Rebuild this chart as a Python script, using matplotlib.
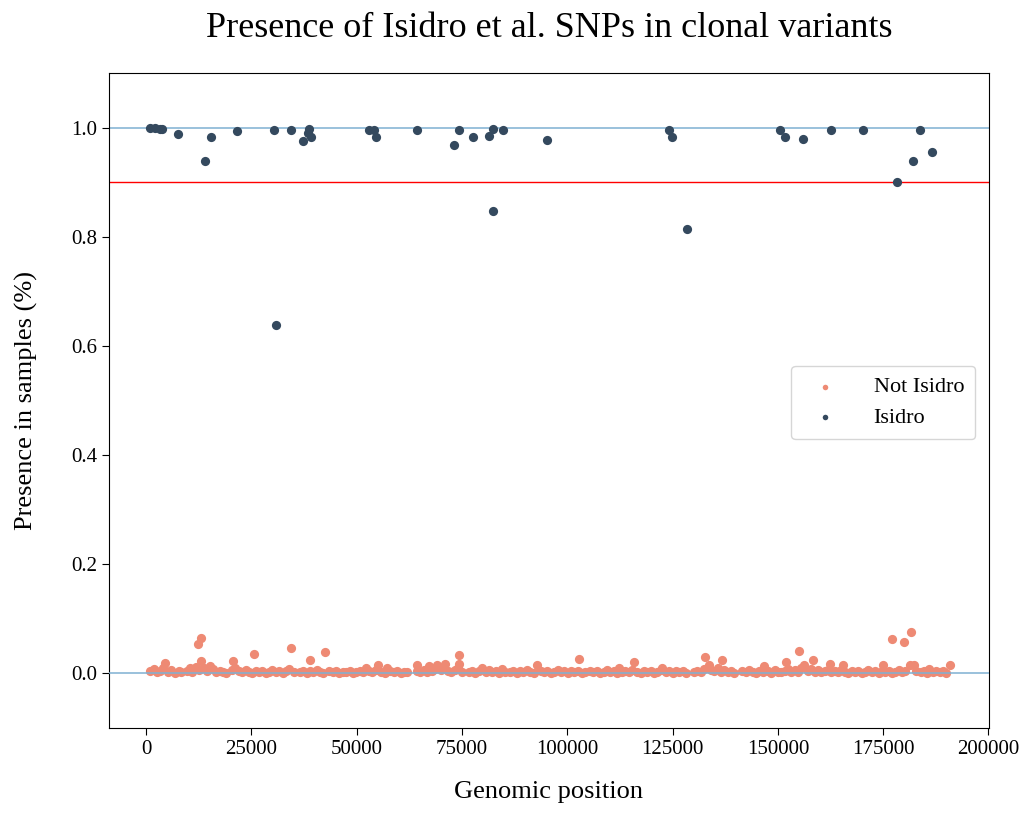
import numpy as np
import matplotlib
matplotlib.use('Agg')
import matplotlib.pyplot as plt

plt.rcParams['font.family'] = ['Liberation Serif', 'DejaVu Serif']

# Isidro SNPs (position, presence)
isidro_pos = [950, 2100, 3300, 3700, 7600, 14000, 15400, 21600, 30300, 30900,
              34500, 37200, 38400, 38600, 39200, 52900, 54100, 54600, 64300, 73200,
              74300, 77500, 81300, 82300, 82400, 84700, 95100, 124200, 124800, 128400,
              150500, 151600, 156000, 162500, 170300, 178300, 182200, 183700, 186700]
isidro_val = [0.999, 0.999, 0.998, 0.997, 0.989, 0.939, 0.983, 0.993, 0.995, 0.639,
              0.996, 0.976, 0.990, 0.997, 0.983, 0.995, 0.995, 0.982, 0.996, 0.969,
              0.996, 0.983, 0.985, 0.847, 0.997, 0.995, 0.978, 0.995, 0.982, 0.815,
              0.995, 0.982, 0.980, 0.996, 0.996, 0.900, 0.939, 0.996, 0.956]

# other SNPs, the dense band close to zero
band = [
    (1000, .004), (1800, .008), (2600, .002), (3300, .005), (4100, .010), (5200, .003),
    (6000, .006), (6900, .001), (7700, .004), (8300, .002),
    (9600, .005), (10300, .009), (11000, .003), (11800, .012), (12600, .006), (13700, .010),
    (14400, .004), (15200, .014), (15900, .007), (16700, .002), (17500, .005), (18300, .003), (19000, .001),
    (20300, .006), (21200, .009), (22000, .004), (22800, .002), (23600, .006), (24400, .003),
    (25200, .001), (26000, .005), (26800, .002), (27600, .004), (28400, .001), (29200, .003),
    (30000, .006), (30800, .002), (31600, .004), (32400, .001), (33200, .005), (34000, .008), (35000, .003),
    (36500, .002), (37300, .005), (38100, .001), (38900, .004), (39700, .002), (40500, .006),
    (41300, .003), (42100, .001),
    (43500, .004), (44300, .002), (45100, .005), (45900, .001), (46700, .003), (47500, .002),
    (48300, .004), (49100, .001), (49900, .003), (50700, .005), (51500, .002), (52100, .010),
    (52900, .004), (53700, .002), (54500, .006), (55800, .003), (56600, .001), (57200, .010),
    (58000, .004), (58800, .002), (59600, .005), (60400, .001), (61200, .003), (62000, .002),
    (64200, .005), (65100, .002), (65900, .006), (66700, .003), (67100, .013), (67900, .004),
    (68700, .008), (69100, .015), (69900, .006), (70900, .017), (71700, .004), (72500, .002),
    (73300, .006), (74100, .010), (74300, .017), (75000, .003),
    (76600, .002), (77400, .005), (78200, .001), (79000, .004), (79800, .010), (80600, .003),
    (81400, .006), (82200, .002), (83000, .004), (83800, .001), (84600, .008), (85100, .003),
    (86400, .002), (87200, .005), (88000, .001), (88800, .004), (89600, .002), (90400, .006),
    (91200, .003), (92000, .001), (92900, .015), (93700, .004), (94500, .002), (95300, .005),
    (96100, .001), (96900, .003), (97700, .006), (98500, .002), (99300, .004), (100100, .001),
    (100900, .005), (101700, .002), (102500, .004), (103500, .001), (104100, .003),
    (105400, .004), (106200, .002), (107000, .005), (107800, .001), (108600, .003), (109400, .006),
    (110200, .002), (111000, .004), (111800, .001), (112200, .010), (113000, .003), (113800, .005),
    (114600, .002), (115400, .006), (116600, .003), (117400, .001), (118200, .004), (119000, .002),
    (119800, .005), (120600, .001), (121400, .003), (122200, .006), (122600, .010), (123400, .002),
    (124200, .004), (125000, .001), (125800, .005), (126600, .002), (127400, .004), (128200, .001),
    (130100, .003), (130900, .005), (131700, .002), (132500, .008), (133300, .010), (134100, .006),
    (134900, .004), (135700, .009), (136500, .003), (137300, .006), (138100, .002), (138900, .005),
    (139700, .001),
    (141600, .004), (142400, .002), (143200, .006), (144000, .003), (144800, .001), (145600, .005),
    (146400, .002), (146800, .013), (147600, .004), (148400, .001), (149200, .006), (150000, .003),
    (150800, .002), (151600, .005), (152400, .008), (153200, .003), (154000, .006), (154800, .002),
    (155600, .010), (156300, .015), (157100, .004), (157900, .007), (158700, .003), (159500, .006),
    (160300, .002),
    (161100, .004), (161900, .006), (162300, .017), (162700, .003), (163500, .005), (164300, .002),
    (165100, .006), (165400, .015), (165900, .003), (166700, .001), (167500, .004), (168300, .002),
    (169100, .005), (169900, .001), (170700, .003), (171500, .006), (172300, .002), (173100, .004),
    (173900, .001), (174700, .005), (175500, .002), (176300, .004), (177100, .001), (177900, .003),
    (178700, .006), (179500, .002), (180300, .004), (181300, .016), (182400, .016), (182700, .005),
    (183900, .002), (184700, .004), (185500, .001), (186000, .008), (186800, .003), (187600, .005),
    (188400, .002), (189200, .004), (190000, .001),
]

# other SNPs that stand out of the band
outliers = [
    (13100, .065), (12200, .054), (25500, .035), (34400, .047), (38900, .025), (42500, .039),
    (13000, .023), (20600, .022), (4500, .018), (74400, .033), (64400, .015), (55000, .016),
    (102700, .027), (115900, .020), (132800, .029), (136700, .024), (133700, .015),
    (155100, .040), (152000, .021), (158300, .024), (177100, .062), (179900, .058),
    (181500, .076), (190800, .016), (174900, .015),
]

not_pos = [p for p, v in band + outliers]
not_val = [v for p, v in band + outliers]

fig = plt.figure(figsize=(10.29, 8.16), dpi=100)
ax = fig.add_axes([0.106, 0.108, 0.855, 0.8025])

ax.scatter(not_pos, not_val, s=44, color='#ee8a74', linewidths=0,
           label='Not Isidro', zorder=2)
ax.axhline(0.0, color='#7fb0d2', linewidth=1.1, zorder=3)
ax.axhline(1.0, color='#7fb0d2', linewidth=1.1, zorder=1)
ax.axhline(0.9, color='red', linewidth=1.0, zorder=1)
ax.scatter(isidro_pos, isidro_val, s=44, color='#34495e', linewidths=0,
           label='Isidro', zorder=4)

ax.set_xlim(-8800, 200100)
ax.set_ylim(-0.1, 1.1)
ax.set_xticks(np.arange(0, 200001, 25000))
ax.set_yticks(np.arange(0, 1.01, 0.2))
ax.tick_params(labelsize=15, length=5)
ax.set_xlabel('Genomic position', fontsize=19, labelpad=16)
ax.set_ylabel('Presence in samples (%)', fontsize=19, labelpad=24)
ax.set_title('Presence of Isidro et al. SNPs in clonal variants', fontsize=26, pad=26)

ax.legend(loc='center right', bbox_to_anchor=(0.997, 0.497), fontsize=16,
          markerscale=0.6, borderpad=0.5, labelspacing=0.45, handletextpad=1.2)

fig.savefig('out.png', dpi=100)
